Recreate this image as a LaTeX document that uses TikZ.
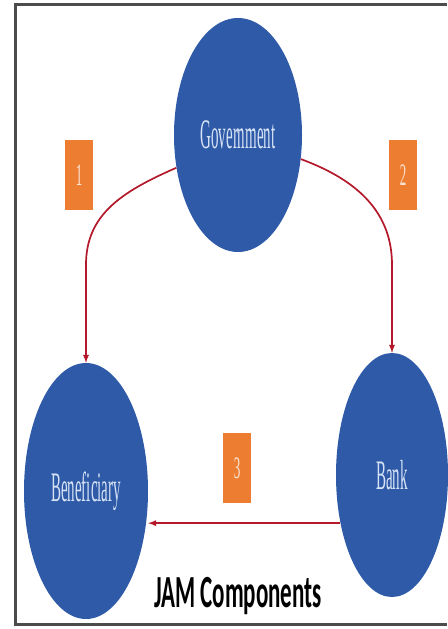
\documentclass[tikz,border=0pt]{standalone}
\usepackage{fontspec}
\setmainfont{Liberation Serif}
\newfontfamily\titlefont{Carlito}
\usetikzlibrary{shapes.geometric}
\newcommand{\tallword}[2]{\scalebox{1}[#1]{#2}}
\definecolor{jamblue}{HTML}{2E5AA8}
\definecolor{jamorange}{HTML}{ED7D31}
\definecolor{jamred}{HTML}{B3192B}
\definecolor{jamtext}{HTML}{D6E2F5}
\begin{document}
\begin{tikzpicture}[x=1pt,y=-1pt,
  party/.style={ellipse,fill=jamblue,text=jamtext,inner sep=0pt,font=\fontsize{15}{15}\selectfont},
  stepno/.style={fill=jamorange,text=white!80!jamorange,minimum width=28pt,minimum height=70pt,inner sep=0pt,font=\fontsize{13}{13}\selectfont},
  flow/.style={draw=jamred,line width=1.7pt,-latex}]
  \useasboundingbox (0,0) rectangle (447,629);
  \fill[white] (0,0) rectangle (447,629);
  % frame, open on the right
  \draw[gray!60!black,line width=3pt] (447,4) -- (15,4) -- (15,624) -- (447,624);
  \node[party,minimum width=128pt,minimum height=234pt] (gov) at (238,135) {\tallword{2.8}{Government}};
  \node[party,minimum width=124pt,minimum height=256pt] (ben) at (86,491) {\tallword{2.8}{Beneficiary}};
  \node[party,minimum width=112pt,minimum height=244pt] (bank) at (392,475) {\tallword{2.8}{Bank}};
  \node[stepno] (one) at (79,175) {\tallword{2.4}{1}};
  \node[stepno] (two) at (403,175) {\tallword{2.4}{2}};
  \node[stepno] (three) at (237,468) {\tallword{2.4}{3}};
  \draw[flow] (gov.208) .. controls +(-55,24) and +(0,-50) .. ([yshift=98pt]ben.north) -- (ben.north);
  \draw[flow] (gov.339) .. controls +(60,22) and +(0,-50) .. ([yshift=88pt]bank.north) -- (bank.north);
  \draw[flow] (bank.223) -- (bank.223 -| ben.east);
  \node[anchor=base,font=\titlefont\bfseries\fontsize{23}{23}\selectfont] (title) at (238,607) {\tallword{2.0}{JAM Components}};
\end{tikzpicture}
\end{document}
